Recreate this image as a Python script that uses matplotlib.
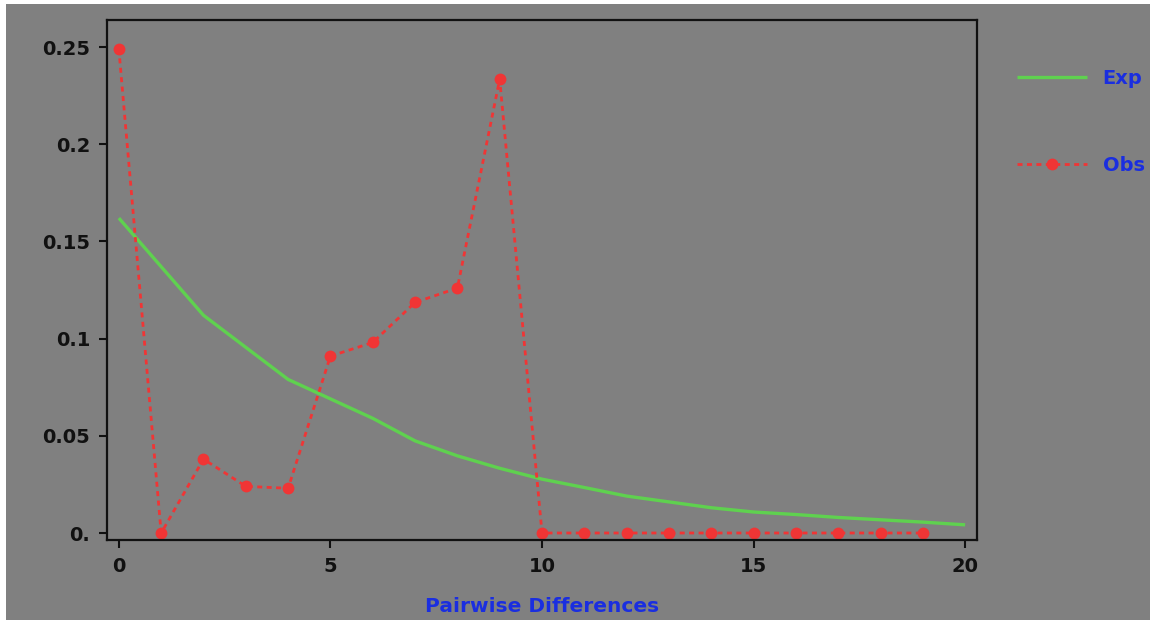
import matplotlib
matplotlib.use("Agg")
import matplotlib.pyplot as plt
from matplotlib.patches import Rectangle

# Data
x_exp = list(range(0, 21))
y_exp = [0.162, 0.137, 0.112, 0.0955, 0.079, 0.069, 0.059, 0.0474, 0.0397, 0.0333,
         0.0277, 0.0234, 0.019, 0.016, 0.013, 0.0108, 0.0095, 0.008, 0.0068, 0.0056, 0.0042]
x_obs = list(range(0, 20))
y_obs = [0.249, 0.0, 0.038, 0.024, 0.023, 0.091, 0.098, 0.1186, 0.126, 0.2335,
         0.0, 0.0, 0.0, 0.0, 0.0, 0.0, 0.0, 0.0, 0.0, 0.0]
xticks = [0, 5, 10, 15, 20]
xtick_labels = ["0", "5", "10", "15", "20"]
yticks = [0.0, 0.05, 0.1, 0.15, 0.2, 0.25]
ytick_labels = ["0.", "0.05", "0.1", "0.15", "0.2", "0.25"]
series_names = ["Exp", "Obs"]
xlabel = "Pairwise Differences"

W, H = 1150, 625
fig = plt.figure(figsize=(W / 100, H / 100), dpi=100, facecolor="white")
gray = "#808080"
bg = Rectangle((6 / W, (H - 620) / H), (W - 6) / W, (620 - 4) / H,
               transform=fig.transFigure, facecolor=gray, edgecolor="none", zorder=-10)
fig.patches.append(bg)

ax = fig.add_axes([107 / W, (H - 540) / H, (977 - 107) / W, (540 - 20) / H])
ax.set_zorder(5)
ax.set_facecolor(gray)

green = "#5fd14f"
red = "#f03535"
blue = "#1a2ee0"

ax.plot(x_exp, y_exp, color=green, lw=2.4, label=series_names[0], solid_capstyle="butt")
ax.plot(x_obs, y_obs, color=red, lw=2.0, linestyle=(0, (1.8, 1.6)), marker="o",
        markersize=7.5, markerfacecolor=red, markeredgecolor=red, label=series_names[1])

ax.set_xlim(-0.28, 20.28)
ax.set_ylim(-0.0036, 0.2639)
ax.set_xticks(xticks)
ax.set_xticklabels(xtick_labels)
ax.set_yticks(yticks)
ax.set_yticklabels(ytick_labels)

for s in ax.spines.values():
    s.set_color("#111111")
    s.set_linewidth(1.6)
ax.tick_params(direction="out", length=6, width=1.5, color="#111111",
               labelsize=14, labelcolor="#111111", pad=6)
for lab in ax.get_xticklabels() + ax.get_yticklabels():
    lab.set_fontweight("bold")

ax.set_xlabel(xlabel, color=blue, fontsize=14.5, fontweight="bold", labelpad=15)

leg = ax.legend(loc="upper left", bbox_to_anchor=(1017 / W, (H - 69) / H),
                bbox_transform=fig.transFigure, frameon=False, borderpad=0,
                borderaxespad=0, handlelength=3.6, handletextpad=0.8,
                labelspacing=3.5, prop={"weight": "bold", "size": 14},
                labelcolor=blue, numpoints=1)

fig.savefig("out.png", dpi=100, facecolor="white")
